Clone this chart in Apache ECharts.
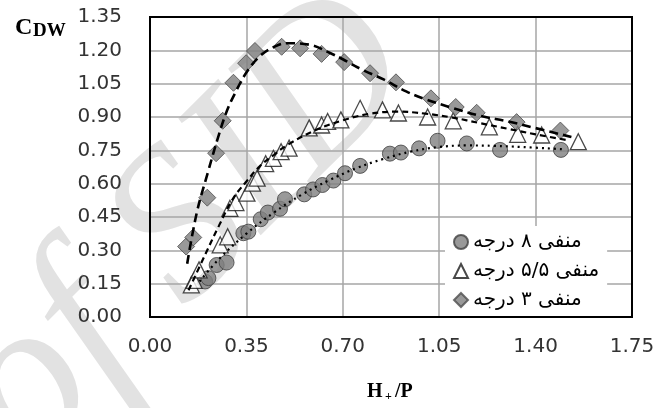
<!DOCTYPE html>
<html><head><meta charset="utf-8">
<script src="https://cdn.jsdelivr.net/npm/echarts@6/dist/echarts.min.js"></script>
<style>html,body{margin:0;padding:0;background:#fff}#c{width:671px;height:408px}</style>
</head><body><div id="c"></div>
<script>
// tick values
const xTicks = [0.00, 0.35, 0.70, 1.05, 1.40, 1.75];
const yTicks = [0.00, 0.15, 0.30, 0.45, 0.60, 0.75, 0.90, 1.05, 1.20, 1.35];
// legend names
const seriesNames = ['منفی ۸ درجه', 'منفی ۵/۵ درجه', 'منفی ۳ درجه'];
// measured points [H+/P, CDW]
const deg8 = [[0.200,0.160],[0.212,0.175],[0.242,0.234],[0.278,0.245],[0.339,0.377],[0.357,0.384],[0.402,0.440],[0.428,0.470],[0.472,0.487],[0.490,0.530],[0.560,0.552],[0.592,0.574],[0.626,0.594],[0.666,0.614],[0.708,0.647],[0.763,0.680],[0.871,0.735],[0.911,0.740],[0.977,0.759],[1.044,0.793],[1.150,0.781],[1.271,0.752],[1.492,0.752]];
const deg55 = [[0.150,0.145],[0.160,0.165],[0.178,0.212],[0.255,0.325],[0.282,0.361],[0.290,0.489],[0.312,0.515],[0.352,0.557],[0.372,0.602],[0.389,0.625],[0.420,0.690],[0.448,0.714],[0.476,0.744],[0.505,0.760],[0.578,0.851],[0.623,0.864],[0.645,0.880],[0.693,0.887],[0.763,0.939],[0.844,0.932],[0.902,0.918],[1.008,0.900],[1.101,0.883],[1.232,0.856],[1.335,0.822],[1.422,0.819],[1.555,0.789]];
const deg3 = [[0.131,0.317],[0.157,0.358],[0.208,0.537],[0.240,0.737],[0.264,0.883],[0.303,1.054],[0.349,1.142],[0.381,1.197],[0.478,1.216],[0.545,1.209],[0.623,1.184],[0.705,1.147],[0.799,1.097],[0.893,1.056],[1.020,0.984],[1.110,0.945],[1.186,0.919],[1.331,0.877],[1.490,0.839]];
// trend curves
const trend8 = [[0.18,0.16],[0.25,0.26],[0.35,0.375],[0.45,0.47],[0.55,0.55],[0.65,0.615],[0.75,0.67],[0.85,0.712],[0.95,0.745],[1.05,0.765],[1.15,0.772],[1.25,0.77],[1.35,0.765],[1.5,0.755]];
const trend55 = [[0.14,0.12],[0.2,0.28],[0.25,0.41],[0.3,0.53],[0.35,0.61],[0.4,0.68],[0.45,0.73],[0.5,0.775],[0.6,0.84],[0.7,0.885],[0.8,0.915],[0.9,0.924],[1.0,0.915],[1.1,0.897],[1.2,0.872],[1.3,0.847],[1.4,0.822],[1.52,0.795]];
const trend3 = [[0.135,0.24],[0.17,0.47],[0.21,0.65],[0.25,0.82],[0.28,0.93],[0.31,1.01],[0.35,1.10],[0.40,1.175],[0.45,1.215],[0.50,1.232],[0.58,1.225],[0.65,1.19],[0.70,1.16],[0.77,1.113],[0.85,1.068],[0.93,1.015],[1.0,0.98],[1.1,0.94],[1.2,0.905],[1.3,0.88],[1.4,0.85],[1.53,0.81]];

const chart = echarts.init(document.getElementById('c'), null, {renderer:'canvas'});
const labelFont = {fontFamily:'DejaVu Sans', fontSize:20, color:'#333'};
const titleFont = '"Liberation Serif","DejaVu Serif",serif';
chart.setOption({
  animation:false,
  backgroundColor:'#fff',
  grid:{left:150, right:39, top:17, bottom:91, show:true, borderColor:'#000', borderWidth:2, backgroundColor:'transparent', z:3},
  xAxis:{type:'value', min:xTicks[0], max:xTicks[xTicks.length-1], interval:xTicks[1]-xTicks[0],
    axisLine:{show:false}, axisTick:{show:false},
    splitLine:{show:true, lineStyle:{color:'#a6a6a6', width:1.5}},
    axisLabel:{...labelFont, margin:20, formatter:v=>v.toFixed(2)}},
  yAxis:{type:'value', min:yTicks[0], max:yTicks[yTicks.length-1], interval:yTicks[1]-yTicks[0],
    axisLine:{show:false}, axisTick:{show:false},
    splitLine:{show:true, lineStyle:{color:'#a6a6a6', width:1.5}},
    axisLabel:{...labelFont, margin:28, formatter:v=>v.toFixed(2)}},
  legend:{orient:'vertical', left:445, top:226, padding:[5,8,5,8], backgroundColor:'#fff',
    itemWidth:14, itemHeight:14, itemGap:7, itemTextGap:3,
    textStyle:{fontFamily:'"DejaVu Sans"', fontSize:20, color:'#000', lineHeight:22},
    data:seriesNames, z:10},
  graphic:[
    {type:'text', z:-10, x:-87, y:351, rotation:45*Math.PI/180,
      style:{text:'of SID', font:'italic 215px "Liberation Serif"', fill:'#e2e2e2', align:'left', verticalAlign:'top'}},
    {type:'text', x:15, y:16, style:{text:'C', font:'bold 24px '+titleFont, fill:'#000'}},
    {type:'text', x:33, y:22, style:{text:'DW', font:'bold 19px '+titleFont, fill:'#000'}},
    {type:'text', x:367, y:382, style:{text:'H', font:'bold 20px '+titleFont, fill:'#000'}},
    {type:'text', x:385, y:391, style:{text:'+', font:'bold 12px '+titleFont, fill:'#000'}},
    {type:'text', x:395, y:382, style:{text:'/P', font:'bold 20px '+titleFont, fill:'#000'}}
  ],
  series:[
    {name:seriesNames[0], type:'scatter', data:deg8, symbol:'circle', symbolSize:15,
      itemStyle:{color:'#7f7f7f', borderColor:'#404040', borderWidth:1}, z:4},
    {name:seriesNames[1], type:'scatter', data:deg55, symbol:'triangle', symbolSize:16,
      itemStyle:{color:'#fff', borderColor:'#1a1a1a', borderWidth:1.3}, z:4},
    {name:seriesNames[2], type:'scatter', data:deg3, symbol:'diamond', symbolSize:17,
      itemStyle:{color:'#7f7f7f', borderColor:'#4d4d4d', borderWidth:1}, z:4},
    {type:'line', data:trend8, smooth:0.4, symbol:'none', silent:true, z:5,
      lineStyle:{color:'#000', width:2.2, type:[2,4]}},
    {type:'line', data:trend55, smooth:0.4, symbol:'none', silent:true, z:5,
      lineStyle:{color:'#000', width:2.2, type:[6,4]}},
    {type:'line', data:trend3, smooth:0.4, symbol:'none', silent:true, z:5,
      lineStyle:{color:'#000', width:2.6, type:[9,5]}}
  ]
});
</script></body></html>
